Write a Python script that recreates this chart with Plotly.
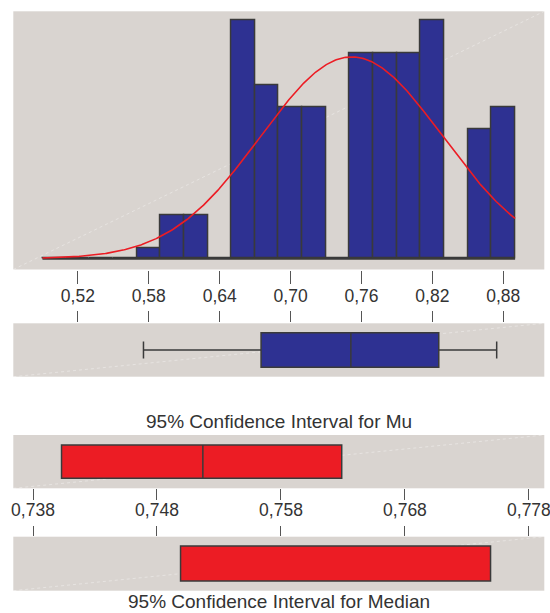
import numpy as np
import plotly.graph_objects as go

# ---------------- data ----------------
bin_centers = [0.50, 0.52, 0.54, 0.56, 0.58, 0.60, 0.62, 0.64, 0.66, 0.68,
               0.70, 0.72, 0.74, 0.76, 0.78, 0.80, 0.82, 0.84, 0.86, 0.88]
counts = [0, 0, 0, 0, 1, 4, 4, 0, 22, 16,
          14, 14, 0, 19, 19, 19, 22, 0, 12, 14]
bin_width = 0.02

fit_mean = 0.7517
fit_sd = 0.077

box_min = 0.5755
box_q1 = 0.675
box_median = 0.751
box_q3 = 0.8254
box_max = 0.8744

ci_mu = [0.7403, 0.7517, 0.7629]        # lower, mean, upper
ci_median = [0.7500, 0.7750]            # lower, upper

hist_ticks = [0.52, 0.58, 0.64, 0.70, 0.76, 0.82, 0.88]
ci_ticks = [0.738, 0.748, 0.758, 0.768, 0.778]

title_mu = "95% Confidence Interval for Mu"
title_median = "95% Confidence Interval for Median"

# ---------------- styles ----------------
BG = "#d9d4d0"
NAVY = "#2e3192"
RED = "#ec1c24"
EDGE = "#3a3a3a"
TXT = "#333333"
FONT = "Liberation Sans, Arial, sans-serif"

W, H = 550, 613
def px(v):   # pixel -> paper (x)
    return v / W
def py(v):   # pixel -> paper (y)
    return 1 - v / H

x_dom = [px(13.3), px(544.3)]
p1 = [py(269.5), py(11.3)]
p2 = [py(376.7), py(323.3)]
p3 = [py(488.3), py(435.0)]
p4 = [py(590.7), py(536.7)]

hist_range = [0.46533, 0.9147]
ci_range = [0.73641, 0.77924]

fig = go.Figure()

# baseline under histogram (empty bins show as a line)
edge_lo = bin_centers[0] - bin_width / 2
edge_hi = bin_centers[-1] + bin_width / 2
fig.add_trace(go.Scatter(x=[edge_lo, edge_hi], y=[0, 0], mode="lines",
                         line=dict(color=EDGE, width=2), hoverinfo="skip",
                         xaxis="x", yaxis="y", showlegend=False))

fig.add_trace(go.Bar(x=bin_centers, y=counts, width=bin_width,
                     marker=dict(color=NAVY, line=dict(color=EDGE, width=1.5)),
                     xaxis="x", yaxis="y", showlegend=False))

n_total = sum(counts)
xc = np.linspace(edge_lo, edge_hi, 400)
yc = n_total * bin_width / (fit_sd * np.sqrt(2 * np.pi)) * np.exp(-0.5 * ((xc - fit_mean) / fit_sd) ** 2)
fig.add_trace(go.Scatter(x=xc, y=yc, mode="lines", line=dict(color=RED, width=1.6),
                         xaxis="x", yaxis="y", showlegend=False))

# box plot
fig.add_trace(go.Box(y=[0], q1=[box_q1], median=[box_median], q3=[box_q3],
                     lowerfence=[box_min], upperfence=[box_max],
                     orientation="h", width=0.645, boxpoints=False,
                     fillcolor=NAVY, line=dict(color=EDGE, width=1.5),
                     xaxis="x2", yaxis="y2", showlegend=False))

# CI for mu
fig.add_trace(go.Box(y=[0], q1=[ci_mu[0]], median=[ci_mu[1]], q3=[ci_mu[2]],
                     lowerfence=[ci_mu[0]], upperfence=[ci_mu[2]],
                     orientation="h", width=0.625, boxpoints=False,
                     fillcolor=RED, line=dict(color=EDGE, width=1.5),
                     xaxis="x3", yaxis="y3", showlegend=False))

# CI for median
fig.add_trace(go.Bar(y=[0], x=[ci_median[1] - ci_median[0]], base=[ci_median[0]],
                     orientation="h", width=0.648,
                     marker=dict(color=RED, line=dict(color=EDGE, width=1.5)),
                     xaxis="x4", yaxis="y4", showlegend=False))

tickfont = dict(family=FONT, size=17.5, color=TXT)
common_x = dict(showgrid=False, zeroline=False, showline=False, tickcolor="#555555",
                tickwidth=1, ticks="outside", tickfont=tickfont,
                ticklabeloverflow="allow", automargin=False)
common_y = dict(showgrid=False, zeroline=False, showline=False, showticklabels=False,
                ticks="", fixedrange=True, automargin=False)

fig.update_layout(
    width=W, height=H, margin=dict(l=0, r=0, t=0, b=0, autoexpand=False),
    paper_bgcolor="white", plot_bgcolor=BG, separators=", ",
    bargap=0, boxgap=0,
    xaxis=dict(domain=x_dom, range=hist_range, anchor="y", side="bottom",
               tickvals=hist_ticks, tickformat=".2f", ticklen=13,
               ticklabelstandoff=-3, **common_x),
    yaxis=dict(domain=p1, range=[-1.0, 22.87], anchor="x", **common_y),
    xaxis2=dict(domain=x_dom, range=hist_range, anchor="y2", side="top",
                tickvals=hist_ticks, showticklabels=False, ticklen=11, **common_x),
    yaxis2=dict(domain=p2, range=[-0.5, 0.5], anchor="x2", **common_y),
    xaxis3=dict(domain=x_dom, range=ci_range, anchor="y3", side="bottom",
                tickvals=ci_ticks, tickformat=".3f", ticklen=11,
                ticklabelstandoff=-5, **common_x),
    yaxis3=dict(domain=p3, range=[-0.5, 0.5], anchor="x3", **common_y),
    xaxis4=dict(domain=x_dom, range=ci_range, anchor="y4", side="top",
                tickvals=ci_ticks, showticklabels=False, ticklen=10, **common_x),
    yaxis4=dict(domain=p4, range=[-0.5, 0.5], anchor="x4", **common_y),
)

fig.add_annotation(text=title_mu, xref="paper", yref="paper", x=(x_dom[0] + x_dom[1]) / 2,
                   y=py(421), xanchor="center", yanchor="middle", showarrow=False,
                   font=dict(family=FONT, size=19, color=TXT))
fig.add_annotation(text=title_median, xref="paper", yref="paper", x=(x_dom[0] + x_dom[1]) / 2,
                   y=py(601.7), xanchor="center", yanchor="middle", showarrow=False,
                   font=dict(family=FONT, size=19, color=TXT))

# faint diagonal artefacts of the panels
for xa, ya in [("x", "y"), ("x2", "y2"), ("x3", "y3"), ("x4", "y4")]:
    fig.add_shape(type="line", xref=xa + " domain", yref=ya + " domain",
                  x0=0, y0=0, x1=1, y1=1, layer="below",
                  line=dict(color="rgba(255,255,255,0.35)", width=1, dash="dot"))

fig.write_html("out.html")
